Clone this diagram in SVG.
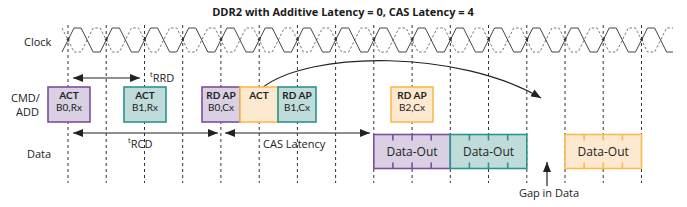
<svg xmlns="http://www.w3.org/2000/svg" width="687" height="207" viewBox="0 0 687 207">
<defs>
<style>
text{font-family:"Open Sans","Noto Sans","Liberation Sans",sans-serif;fill:#222}
.title{font-size:11px;font-weight:bold;fill:#1a1a1a}
.lbl{font-size:11px}
.bt{font-family:Lato,"Open Sans",sans-serif;font-size:10px;font-weight:bold}
.br{font-family:Lato,"Open Sans",sans-serif;font-size:10px}
.do{font-size:12px}
.grid{stroke:#333;stroke-width:1;stroke-dasharray:3 3;fill:none}
.ck{fill:none;stroke:#444;stroke-width:1}
.ckd{fill:none;stroke:#777;stroke-width:1;stroke-dasharray:2.5 2}
.pu{fill:#d9d0e3;stroke:#7d4e9c;stroke-width:1.6}
.te{fill:#bfdcdb;stroke:#2a958c;stroke-width:1.6}
.or{fill:#fde8d0;stroke:#f9bb4c;stroke-width:1.6}
.tkp{stroke:#7d4e9c;stroke-width:1.6}
.tkt{stroke:#2a958c;stroke-width:1.6}
.tko{stroke:#f9bb4c;stroke-width:1.6}
.ar{stroke:#222;stroke-width:1.2;fill:none}
</style>
<marker id="ah" viewBox="0 0 10 8" refX="10" refY="4" markerWidth="10" markerHeight="8" markerUnits="userSpaceOnUse" orient="auto-start-reverse">
<path d="M0,0 L10,4 L0,8 Z" fill="#222"/>
</marker>
<path id="cka" d="M0,0 L-4,-1.7 L-4,1.7 Z" fill="#333"/>
</defs>

<text class="title" x="343" y="16" text-anchor="middle">DDR2 with Additive Latency = 0, CAS Latency = 4</text>

<g id="grid">
<line class="grid" x1="68" y1="25" x2="68" y2="183"/>
<line class="grid" x1="106.2" y1="25" x2="106.2" y2="183"/>
<line class="grid" x1="144.5" y1="25" x2="144.5" y2="183"/>
<line class="grid" x1="182.7" y1="25" x2="182.7" y2="183"/>
<line class="grid" x1="220.9" y1="25" x2="220.9" y2="183"/>
<line class="grid" x1="259.2" y1="25" x2="259.2" y2="183"/>
<line class="grid" x1="297.4" y1="25" x2="297.4" y2="183"/>
<line class="grid" x1="335.6" y1="25" x2="335.6" y2="183"/>
<line class="grid" x1="373.8" y1="25" x2="373.8" y2="183"/>
<line class="grid" x1="412.1" y1="25" x2="412.1" y2="183"/>
<line class="grid" x1="450.3" y1="25" x2="450.3" y2="183"/>
<line class="grid" x1="488.5" y1="25" x2="488.5" y2="183"/>
<line class="grid" x1="526.8" y1="25" x2="526.8" y2="183"/>
<line class="grid" x1="565" y1="25" x2="565" y2="183"/>
<line class="grid" x1="603.2" y1="25" x2="603.2" y2="183"/>
<line class="grid" x1="641.5" y1="25" x2="641.5" y2="183"/>
</g>

<g id="clock">
<text class="lbl" x="24" y="46">Clock</text>
<path class="ckd" d="M62,28 L74,52 L81.1,52 L93.1,28 L100.2,28 L112.2,52 L119.4,52 L131.4,28 L138.5,28 L150.5,52 L157.6,52 L169.6,28 L176.7,28 L188.7,52 L195.8,52 L207.8,28 L214.9,28 L226.9,52 L234,52 L246,28 L253.2,28 L265.2,52 L272.3,52 L284.3,28 L291.4,28 L303.4,52 L310.5,52 L322.5,28 L329.6,28 L341.6,52 L348.7,52 L360.7,28 L367.8,28 L379.8,52 L387,52 L399,28 L406.1,28 L418.1,52 L425.2,52 L437.2,28 L444.3,28 L456.3,52 L463.4,52 L475.4,28 L482.5,28 L494.5,52 L501.7,52 L513.7,28 L520.8,28 L532.8,52 L539.9,52 L551.9,28 L559,28 L571,52 L578.1,52 L590.1,28 L597.2,28 L609.2,52 L616.3,52 L628.3,28 L635.5,28 L647.5,52 L654.6,52 L666.6,28 L673,28"/>
<path class="ck" d="M62,52 L74,28 L81.1,28 L93.1,52 L100.2,52 L112.2,28 L119.4,28 L131.4,52 L138.5,52 L150.5,28 L157.6,28 L169.6,52 L176.7,52 L188.7,28 L195.8,28 L207.8,52 L214.9,52 L226.9,28 L234,28 L246,52 L253.2,52 L265.2,28 L272.3,28 L284.3,52 L291.4,52 L303.4,28 L310.5,28 L322.5,52 L329.6,52 L341.6,28 L348.7,28 L360.7,52 L367.8,52 L379.8,28 L387,28 L399,52 L406.1,52 L418.1,28 L425.2,28 L437.2,52 L444.3,52 L456.3,28 L463.4,28 L475.4,52 L482.5,52 L494.5,28 L501.7,28 L513.7,52 L520.8,52 L532.8,28 L539.9,28 L551.9,52 L559,52 L571,28 L578.1,28 L590.1,52 L597.2,52 L609.2,28 L616.3,28 L628.3,52 L635.5,52 L647.5,28 L654.6,28 L666.6,52 L673,52"/>
<use href="#cka" transform="translate(69.5,37) rotate(-63.4)"/>
<use href="#cka" transform="translate(107.7,37) rotate(-63.4)"/>
<use href="#cka" transform="translate(146,37) rotate(-63.4)"/>
<use href="#cka" transform="translate(184.2,37) rotate(-63.4)"/>
<use href="#cka" transform="translate(222.4,37) rotate(-63.4)"/>
<use href="#cka" transform="translate(260.7,37) rotate(-63.4)"/>
<use href="#cka" transform="translate(298.9,37) rotate(-63.4)"/>
<use href="#cka" transform="translate(337.1,37) rotate(-63.4)"/>
<use href="#cka" transform="translate(375.3,37) rotate(-63.4)"/>
<use href="#cka" transform="translate(413.6,37) rotate(-63.4)"/>
<use href="#cka" transform="translate(451.8,37) rotate(-63.4)"/>
<use href="#cka" transform="translate(490,37) rotate(-63.4)"/>
<use href="#cka" transform="translate(528.3,37) rotate(-63.4)"/>
<use href="#cka" transform="translate(566.5,37) rotate(-63.4)"/>
<use href="#cka" transform="translate(604.7,37) rotate(-63.4)"/>
<use href="#cka" transform="translate(643,37) rotate(-63.4)"/>
</g>

<g id="labels">
<text class="lbl" x="11" y="102">CMD/</text>
<text class="lbl" x="16" y="116">ADD</text>
<text class="lbl" x="27" y="158">Data</text>
</g>

<g id="connectors">
<line class="ar" x1="73" y1="78" x2="140" y2="78" marker-start="url(#ah)" marker-end="url(#ah)"/>
<line class="ar" x1="73" y1="133" x2="218" y2="133" marker-start="url(#ah)" marker-end="url(#ah)"/>
<line class="ar" x1="225" y1="133" x2="370" y2="133" marker-start="url(#ah)" marker-end="url(#ah)"/>
<path class="ar" d="M262,88 C310,50 460,50 541,98" marker-end="url(#ah)"/>
<line class="ar" x1="547" y1="186" x2="547" y2="162" marker-end="url(#ah)"/>
</g>

<g id="timing-labels">
<text class="lbl" x="150" y="82"><tspan font-size="7.5" dy="-5">t</tspan><tspan dy="5">RRD</tspan></text>
<text class="lbl" x="128" y="148"><tspan font-size="7.5" dy="-5">t</tspan><tspan dy="5">RCD</tspan></text>
<text class="lbl" x="263" y="148">CAS Latency</text>
<text class="lbl" x="549" y="197" text-anchor="middle">Gap in Data</text>
</g>

<g id="act-b0">
<rect class="pu" x="48" y="87" width="42" height="35"/>
<text class="bt" x="69" y="99" text-anchor="middle">ACT</text>
<text class="br" x="69" y="111" text-anchor="middle">B0,Rx</text>
</g>
<g id="act-b1">
<rect class="te" x="124" y="87" width="42" height="35"/>
<text class="bt" x="145" y="99" text-anchor="middle">ACT</text>
<text class="br" x="145" y="111" text-anchor="middle">B1,Rx</text>
</g>
<g id="rdap-b0">
<rect class="pu" x="202" y="87" width="38" height="35"/>
<text class="bt" x="221" y="99" text-anchor="middle">RD AP</text>
<text class="br" x="221" y="111" text-anchor="middle">B0,Cx</text>
</g>
<g id="act-b2">
<rect class="or" x="240" y="87" width="38" height="35"/>
<text class="bt" x="259" y="99" text-anchor="middle">ACT</text>
</g>
<g id="rdap-b1">
<rect class="te" x="278" y="87" width="38" height="35"/>
<text class="bt" x="297" y="99" text-anchor="middle">RD AP</text>
<text class="br" x="297" y="111" text-anchor="middle">B1,Cx</text>
</g>
<g id="rdap-b2">
<rect class="or" x="391" y="87" width="42" height="35"/>
<text class="bt" x="412" y="99" text-anchor="middle">RD AP</text>
<text class="br" x="412" y="111" text-anchor="middle">B2,Cx</text>
</g>

<g id="data-out-1">
<rect class="pu" x="373.8" y="134.5" width="76.5" height="34"/>
<path class="tkp" d="M392.9,134.5 V140.5 M412.1,134.5 V140.5 M431.2,134.5 V140.5 M392.9,162.5 V168.5 M412.1,162.5 V168.5 M431.2,162.5 V168.5"/>
<text class="do" x="412" y="156" text-anchor="middle">Data-Out</text>
</g>
<g id="data-out-2">
<rect class="te" x="450.3" y="134.5" width="76.5" height="34"/>
<path class="tkt" d="M469.4,134.5 V140.5 M488.5,134.5 V140.5 M507.7,134.5 V140.5 M469.4,162.5 V168.5 M488.5,162.5 V168.5 M507.7,162.5 V168.5"/>
<text class="do" x="488.5" y="156" text-anchor="middle">Data-Out</text>
</g>
<g id="data-out-3">
<rect class="or" x="565" y="134.5" width="76.5" height="34"/>
<path class="tko" d="M584.1,134.5 V140.5 M603.2,134.5 V140.5 M622.4,134.5 V140.5 M584.1,162.5 V168.5 M603.2,162.5 V168.5 M622.4,162.5 V168.5"/>
<text class="do" x="603.2" y="156" text-anchor="middle">Data-Out</text>
</g>
</svg>
